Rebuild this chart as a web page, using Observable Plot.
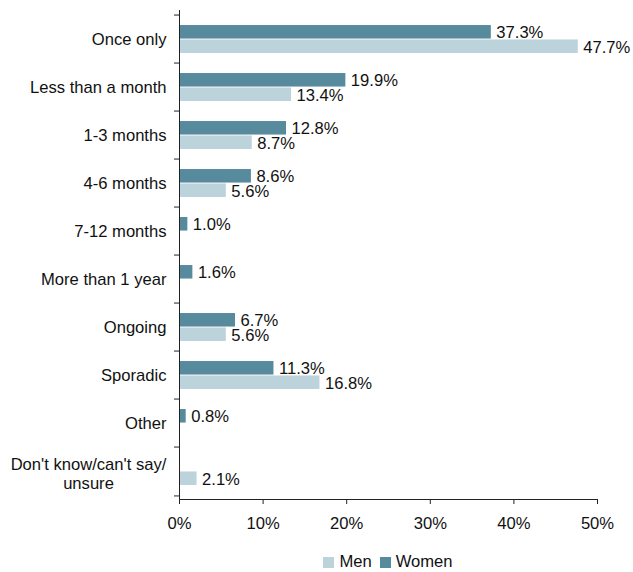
<!DOCTYPE html>
<html>
<head>
<meta charset="utf-8">
<script src="https://cdn.jsdelivr.net/npm/d3@7"></script>
<script src="https://cdn.jsdelivr.net/npm/@observablehq/plot@0.6"></script>
<style>
  body { margin: 0; background: #fff; font-family: "Liberation Sans", Arial, sans-serif; }
  #chart svg { display: block; }
  .legend { width: 633px; box-sizing: border-box; padding: 14px 36px 0 179px; display: flex; justify-content: center; align-items: center; font-size: 16.6px; color: #111; line-height: 16px; }
  .legend span.item { display: flex; align-items: center; margin: 0 4px; }
  .legend i { display: inline-block; width: 11px; height: 11px; margin-right: 5px; }
</style>
</head>
<body>
<div id="chart"></div>
<script>
// Duration categories, top to bottom
const categories = [
  "Once only",
  "Less than a month",
  "1-3 months",
  "4-6 months",
  "7-12 months",
  "More than 1 year",
  "Ongoing",
  "Sporadic",
  "Other",
  "Don't know/can't say/unsure"
];
// Share of respondents (%), null where no bar is shown
const women = [37.3, 19.9, 12.8, 8.6, 1.0, 1.6, 6.7, 11.3, 0.8, null];
const men   = [47.7, 13.4, 8.7, 5.6, null, null, 5.6, 16.8, null, 2.1];
const xTicks = [0, 10, 20, 30, 40, 50];
const seriesNames = ["Men", "Women"];
const seriesColors = ["#bdd3dc", "#588a9e"];

const womenRows = categories.map((c, i) => ({category: c, value: women[i]})).filter(d => d.value != null);
const menRows = categories.map((c, i) => ({category: c, value: men[i]})).filter(d => d.value != null);

const W = 633, H = 540;
const mTop = 10, mBottom = 41, mLeft = 179, mRight = 36;
const band = (H - mTop - mBottom) / categories.length;
const pad = band * 0.205;          // empty space above and below each pair of bars
const barH = (band - 2 * pad) / 2;
const FS = 16.6;
const fmt = v => v.toFixed(1) + "%";
const lastCat = categories[categories.length - 1];

const chart = Plot.plot({
  width: W,
  height: H,
  marginTop: mTop,
  marginBottom: mBottom,
  marginLeft: mLeft,
  marginRight: mRight,
  style: {fontFamily: "'Liberation Sans', Arial, sans-serif", fontSize: FS + "px", color: "#111", background: "#fff"},
  x: {domain: [0, 50]},
  y: {domain: categories, padding: 0},
  color: {domain: seriesNames, range: seriesColors},
  marks: [
    Plot.barX(womenRows, {x: "value", y: "category", fill: () => "Women", insetTop: pad, insetBottom: pad + barH}),
    Plot.barX(menRows, {x: "value", y: "category", fill: () => "Men", insetTop: pad + barH, insetBottom: pad}),
    Plot.text(womenRows, {x: "value", y: "category", text: d => fmt(d.value), dx: 5, dy: -barH / 2 + 0.5, textAnchor: "start", fontSize: FS, fill: "#111"}),
    Plot.text(menRows, {x: "value", y: "category", text: d => fmt(d.value), dx: 5, dy: barH / 2 + 0.5, textAnchor: "start", fontSize: FS, fill: "#111"}),
    Plot.frame({anchor: "left", stroke: "#222"}),
    Plot.frame({anchor: "bottom", stroke: "#222"}),
    // category boundary ticks on the y axis
    Plot.axisY({tickSize: 5, tickFormat: () => "", label: null, dy: -band / 2, stroke: "#222"}),
    Plot.axisY({ticks: [lastCat], tickSize: 5, tickFormat: () => "", label: null, dy: band / 2, stroke: "#222"}),
    // category labels
    Plot.axisY({ticks: categories.slice(0, -1), tickSize: 0, tickPadding: 13, label: null, fontSize: FS, fill: "#111"}),
    Plot.text([lastCat], {y: d => d, text: () => "Don't know/can't say/\nunsure", frameAnchor: "left", dx: -91, dy: 2, textAnchor: "middle", lineHeight: 1.15, fontSize: FS, fill: "#111"}),
    Plot.axisX({ticks: xTicks, tickFormat: d => d + "%", tickSize: 5, tickPadding: 13, label: null, fontSize: FS, fill: "#111", stroke: "#222"})
  ]
});
document.getElementById("chart").append(chart);

// legend below the chart
const legend = document.createElement("div");
legend.className = "legend";
seriesNames.forEach((name, i) => {
  const item = document.createElement("span");
  item.className = "item";
  const sw = document.createElement("i");
  sw.style.background = seriesColors[i];
  item.append(sw, document.createTextNode(name));
  legend.append(item);
});
document.body.append(legend);
</script>
</body>
</html>
